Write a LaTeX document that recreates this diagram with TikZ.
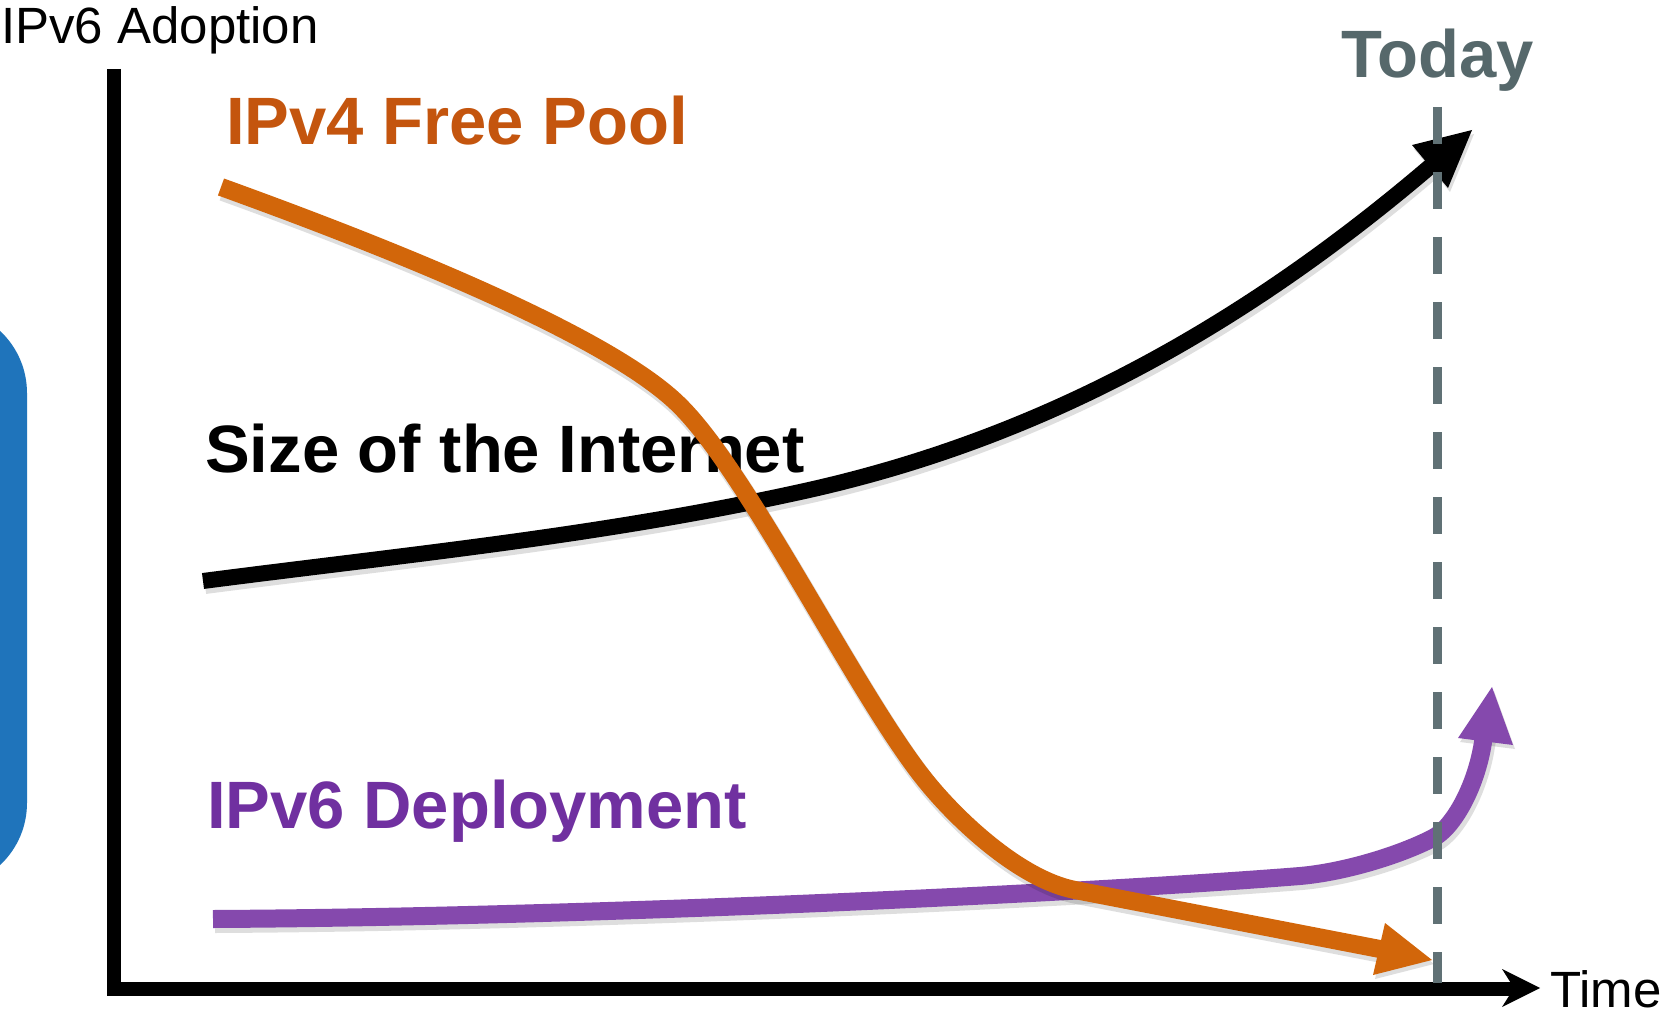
\documentclass[tikz,border=0pt]{standalone}
\usepackage{fontspec}
\setmainfont{Liberation Sans}
\definecolor{poolline}{HTML}{D2660A}
\definecolor{pooltext}{HTML}{C4550E}
\definecolor{deplline}{HTML}{8549AD}
\definecolor{depltext}{HTML}{7030A0}
\definecolor{todayline}{HTML}{607175}
\definecolor{todaytext}{HTML}{56686B}
\definecolor{sideblue}{HTML}{1F74BB}

% curves of the chart, drawn with a style given as argument
\newcommand\curveInternet[1]{\draw[#1] (203,581)
  .. controls (403,555) and (600,536) .. (800,492)
  .. controls (1020,444) and (1226,342) .. (1436,161.5);}
\newcommand\headInternet[1]{\fill[#1] (1472,130) -- (1412,145) -- (1448,188) -- cycle;}
\newcommand\curvePool[1]{\draw[#1] (221,187)
  .. controls (401,252) and (607,336) .. (677,403)
  .. controls (747,469.5) and (855,692.5) .. (925,780)
  .. controls (957,820) and (1020,879.3) .. (1075,890)
  -- (1385,950);}
\newcommand\headPool[1]{\fill[#1] (1432,960) -- (1385,923) -- (1373,975) -- cycle;}
\newcommand\curveDepl[1]{\draw[#1] (213,919)
  .. controls (600,917) and (1100,892) .. (1300,876)
  .. controls (1345,872) and (1400,855) .. (1433,838)
  .. controls (1453,828) and (1478,785) .. (1484,735);}
\newcommand\headDepl[1]{\fill[#1] (1492,687) -- (1458,738) -- (1513,745) -- cycle;}

\begin{document}
\begin{tikzpicture}[x=1pt,y=-1pt,
  bigbold/.style={font=\fontsize{67}{80}\selectfont\bfseries, inner sep=0pt, anchor=base west},
  axislabel/.style={font=\fontsize{51}{60}\selectfont, inner sep=0pt, anchor=base west},
  softshadow/.style={draw=black, opacity=0.13, shift={(2,4)}},
  softshadowfill/.style={fill=black, opacity=0.13, shift={(2,4)}},
  curveline/.style={line cap=butt, line join=round},
]
\useasboundingbox (0,0) rectangle (1664,1016);
\clip (0,0) rectangle (1664,1016);
\fill[white] (0,0) rectangle (1664,1016);

% side panel peeking in at the left
\fill[sideblue, rounded corners=85pt] (-200,308) rectangle (27,888);

% axes
\draw[line width=14pt, line join=miter] (113.5,69) -- (113.5,989) -- (1515,989);
\fill (1540,988) -- (1502,969) -- (1514,988) -- (1502,1007) -- cycle;

% axis labels
\node[axislabel] (ylab) at (1,44) {IPv6 Adoption};
\node[axislabel] (xlab) at (1550,1007) {Time};

% curve labels
\node[bigbold, text=black] (internet) at (205,472) {Size of the Internet};
\node[bigbold, text=pooltext] (pool) at (226,145) {IPv4 Free Pool};
\node[bigbold, text=depltext] (depl) at (207,828) {IPv6 Deployment};
\node[bigbold, text=todaytext] (today) at (1341,78) {Today};

% size of the Internet
\curveInternet{softshadow, curveline, line width=18pt}
\headInternet{softshadowfill}
\curveInternet{curveline, line width=16pt}
\headInternet{black}

% IPv6 deployment
\curveDepl{softshadow, curveline, line width=20pt}
\headDepl{softshadowfill}
\curveDepl{deplline, curveline, line width=18pt}
\headDepl{deplline}

% IPv4 free pool
\curvePool{softshadow, curveline, line width=20pt}
\headPool{softshadowfill}
\curvePool{poolline, curveline, line width=18pt}
\headPool{poolline}

% today marker
\draw[todayline, line width=9pt, dash pattern=on 37pt off 28pt] (1437,107) -- (1437,983);
\end{tikzpicture}
\end{document}
